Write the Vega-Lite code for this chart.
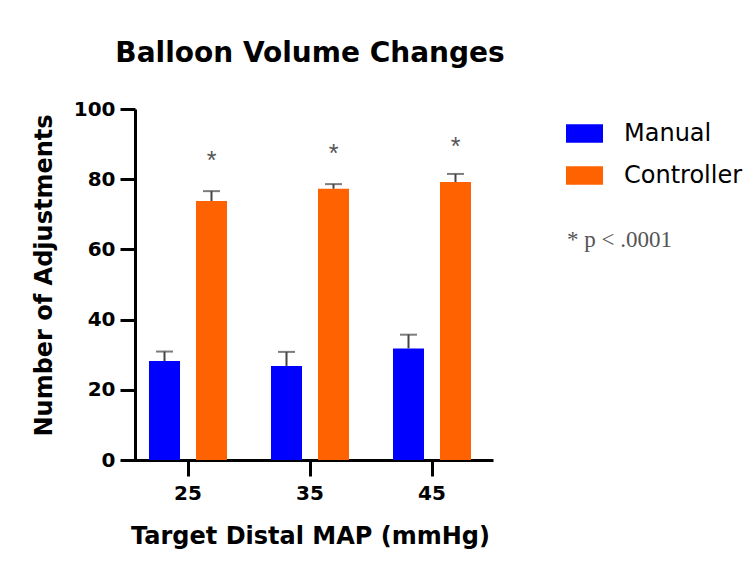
{
  "$schema": "https://vega.github.io/schema/vega-lite/v6.json",
  "width": 366,
  "height": 351,
  "autosize": {"type": "none"},
  "padding": {"left": 127, "top": 109, "right": 261, "bottom": 101},
  "background": "white",
  "title": {
    "text": "Balloon Volume Changes",
    "font": "DejaVu Sans",
    "fontWeight": "bold",
    "fontSize": 28,
    "color": "black",
    "anchor": "middle",
    "offset": 31
  },
  "data": {
    "values": [
      {"group": "25", "series": "Manual", "value": 28.2, "upper": 30.9, "star": null},
      {"group": "25", "series": "Controller", "value": 73.8, "upper": 76.6, "star": 86.4},
      {"group": "35", "series": "Manual", "value": 26.8, "upper": 30.8, "star": null},
      {"group": "35", "series": "Controller", "value": 77.3, "upper": 78.6, "star": 88.3},
      {"group": "45", "series": "Manual", "value": 31.8, "upper": 35.7, "star": null},
      {"group": "45", "series": "Controller", "value": 79.2, "upper": 81.5, "star": 90.3}
    ]
  },
  "encoding": {
    "x": {
      "field": "group",
      "type": "nominal",
      "sort": null,
      "scale": {"paddingInner": 0, "paddingOuter": 0},
      "axis": {
        "title": "Target Distal MAP (mmHg)",
        "labelAngle": 0,
        "labelFont": "DejaVu Sans",
        "labelFontWeight": "bold",
        "labelFontSize": 20,
        "labelColor": "black",
        "labelPadding": 7,
        "tickSize": 16,
        "tickWidth": 3,
        "tickColor": "black",
        "domainWidth": 3,
        "domainColor": "black",
        "titleFont": "DejaVu Sans",
        "titleFontWeight": "bold",
        "titleFontSize": 24,
        "titleColor": "black",
        "titlePadding": 21,
        "grid": false
      }
    },
    "xOffset": {
      "field": "series",
      "type": "nominal",
      "sort": ["Manual", "Controller"],
      "scale": {"paddingInner": 0.34, "paddingOuter": 0.468}
    }
  },
  "layer": [
    {
      "mark": {"type": "bar"},
      "encoding": {
        "y": {
          "field": "value",
          "type": "quantitative",
          "scale": {"domain": [0, 100], "nice": false},
          "axis": {
            "title": "Number of Adjustments",
            "values": [0, 20, 40, 60, 80, 100],
            "offset": -8,
            "labelFont": "DejaVu Sans",
            "labelFontWeight": "bold",
            "labelFontSize": 20,
            "labelColor": "black",
            "labelPadding": 5,
            "tickSize": 15,
            "tickWidth": 3,
            "tickColor": "black",
            "domainWidth": 3,
            "domainColor": "black",
            "titleFont": "DejaVu Sans",
            "titleFontWeight": "bold",
            "titleFontSize": 24,
            "titleColor": "black",
            "titlePadding": 17,
            "titleY": 166,
            "grid": false
          }
        },
        "color": {
          "field": "series",
          "type": "nominal",
          "sort": ["Manual", "Controller"],
          "scale": {"domain": ["Manual", "Controller"], "range": ["#0000FF", "#FF6200"]},
          "legend": {
            "title": null,
            "orient": "right",
            "offset": 67,
            "padding": 6,
            "symbolType": "M-1,-0.5H1V0.5H-1Z",
            "symbolSize": 1369,
            "symbolStrokeWidth": 0,
            "symbolOpacity": 1,
            "labelFont": "DejaVu Sans",
            "labelFontSize": 24,
            "labelColor": "black",
            "labelOffset": 21,
            "rowPadding": 11,
            "labelLimit": 300
          }
        }
      }
    },
    {
      "mark": {"type": "rule", "color": "#444444", "strokeWidth": 2},
      "encoding": {
        "y": {"field": "value", "type": "quantitative"},
        "y2": {"field": "upper"}
      }
    },
    {
      "mark": {"type": "tick", "color": "#444444", "thickness": 2, "size": 17},
      "encoding": {
        "y": {"field": "upper", "type": "quantitative"}
      }
    },
    {
      "transform": [{"filter": "datum.star != null"}],
      "mark": {"type": "text", "font": "Liberation Sans", "fontSize": 25, "baseline": "middle", "dy": 4},
      "encoding": {
        "y": {"field": "star", "type": "quantitative"},
        "text": {"value": "*"},
        "color": {
          "datum": "* p < .0001",
          "type": "nominal",
          "scale": {"range": ["#555555"]},
          "legend": {
            "title": null,
            "orient": "right",
            "offset": 67,
            "padding": 26,
            "symbolSize": 0,
            "symbolOpacity": 0,
            "labelFont": "Liberation Serif",
            "labelFontSize": 23,
            "labelColor": "#555555",
            "labelOffset": -42,
            "labelLimit": 300
          }
        }
      }
    }
  ],
  "resolve": {"scale": {"color": "independent"}},
  "config": {
    "view": {"stroke": null}
  }
}
